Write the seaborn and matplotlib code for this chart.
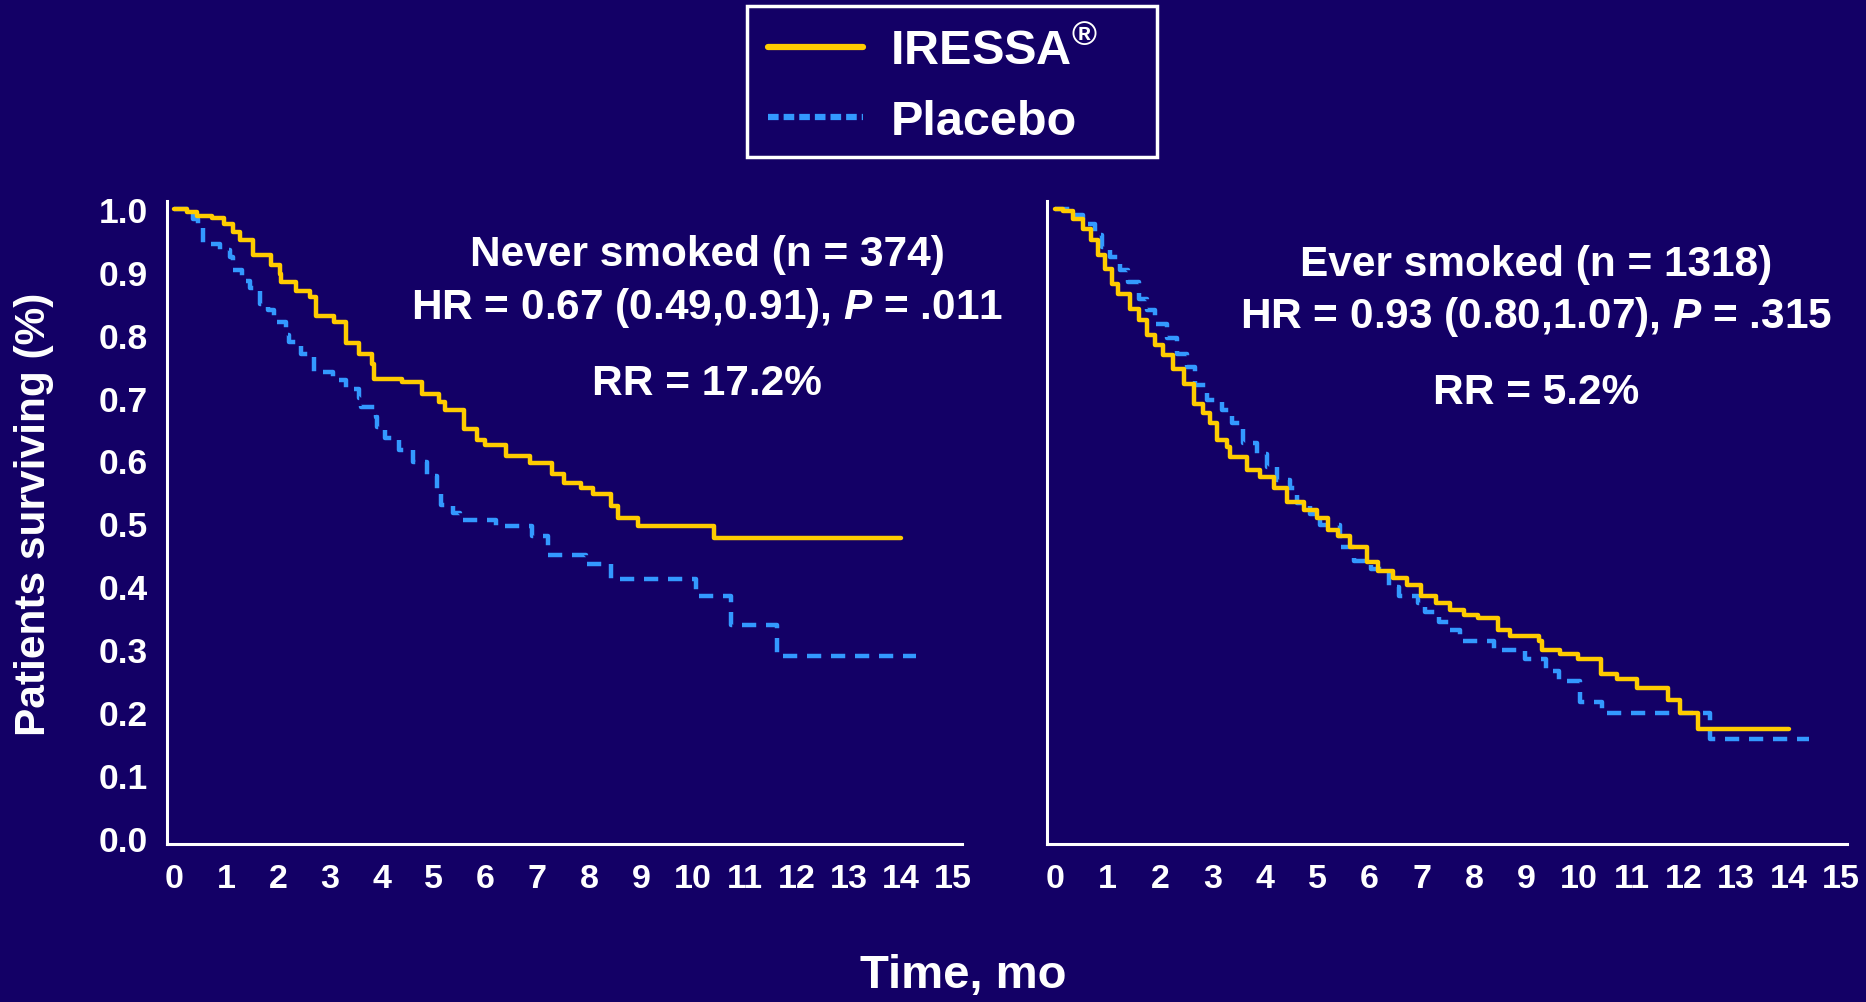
import matplotlib
matplotlib.use("Agg")
import matplotlib.pyplot as plt
from matplotlib import font_manager
from matplotlib.patches import Rectangle
import seaborn as sns
import pandas as pd

# ---------------- data ----------------
months = list(range(0, 16))
surv_ticks = [round(0.1 * i, 1) for i in range(0, 11)]

never_iressa_t = [0, 0.24, 0.43, 0.72, 0.95, 1.14, 1.26, 1.52, 1.87, 2.03, 2.06, 2.35, 2.61, 2.73,
                  3.08, 3.31, 3.56, 3.82, 3.85, 4.39, 4.78, 5.10, 5.22, 5.58, 5.83, 5.99, 6.40,
                  6.85, 7.28, 7.52, 7.83, 8.07, 8.41, 8.55, 8.93, 10.41, 14.0]
never_iressa_s = [1.0, 0.995, 0.989, 0.985, 0.976, 0.963, 0.95, 0.926, 0.91, 0.897, 0.884, 0.87,
                  0.86, 0.83, 0.82, 0.786, 0.77, 0.754, 0.73, 0.725, 0.706, 0.693, 0.68, 0.65,
                  0.633, 0.624, 0.607, 0.596, 0.578, 0.565, 0.557, 0.546, 0.527, 0.508, 0.496,
                  0.477, 0.477]

never_placebo_t = [0, 0.37, 0.45, 0.56, 0.88, 1.07, 1.14, 1.30, 1.46, 1.65, 1.81, 1.93, 2.16, 2.22,
                   2.45, 2.70, 3.05, 3.31, 3.56, 3.60, 3.88, 3.91, 4.07, 4.33, 4.60, 4.87, 5.07,
                   5.14, 5.38, 5.50, 6.21, 6.90, 7.20, 7.93, 8.41, 10.06, 10.72, 11.61, 14.3]
never_placebo_s = [1.0, 0.984, 0.976, 0.944, 0.934, 0.923, 0.902, 0.886, 0.874, 0.849, 0.839,
                   0.82, 0.80, 0.788, 0.77, 0.74, 0.728, 0.714, 0.70, 0.685, 0.669, 0.653, 0.635,
                   0.617, 0.597, 0.575, 0.546, 0.53, 0.517, 0.506, 0.496, 0.48, 0.45, 0.435,
                   0.412, 0.384, 0.339, 0.29, 0.29]

ever_iressa_t = [0, 0.15, 0.34, 0.53, 0.69, 0.82, 0.95, 1.08, 1.20, 1.43, 1.59, 1.75, 1.90, 2.06,
                 2.25, 2.45, 2.64, 2.83, 2.96, 3.08, 3.27, 3.34, 3.66, 3.91, 4.17, 4.42, 4.74,
                 4.99, 5.20, 5.40, 5.62, 5.96, 6.17, 6.44, 6.71, 6.98, 7.26, 7.53, 7.80, 8.07,
                 8.45, 8.69, 9.23, 9.30, 9.64, 9.98, 10.42, 10.73, 11.11, 11.69, 11.93, 12.27, 14.0]
ever_iressa_s = [1.0, 0.997, 0.984, 0.968, 0.95, 0.926, 0.905, 0.881, 0.865, 0.841, 0.823, 0.799,
                 0.783, 0.767, 0.746, 0.722, 0.69, 0.675, 0.659, 0.632, 0.622, 0.606, 0.585,
                 0.574, 0.556, 0.534, 0.521, 0.508, 0.49, 0.48, 0.463, 0.438, 0.424, 0.413,
                 0.402, 0.385, 0.374, 0.363, 0.355, 0.349, 0.33, 0.321, 0.313, 0.299, 0.293,
                 0.285, 0.26, 0.252, 0.238, 0.22, 0.199, 0.174, 0.174]

ever_placebo_t = [0, 0.09, 0.34, 0.53, 0.76, 0.89, 1.04, 1.24, 1.39, 1.59, 1.75, 1.90, 2.13, 2.32,
                  2.51, 2.67, 2.89, 3.18, 3.37, 3.59, 3.85, 4.04, 4.23, 4.48, 4.61, 4.87, 5.06,
                  5.44, 5.70, 6.03, 6.37, 6.57, 6.92, 7.05, 7.32, 7.53, 7.73, 8.38, 8.96, 9.37,
                  9.61, 10.02, 10.43, 12.50, 14.38]
ever_placebo_s = [1.0, 0.999, 0.99, 0.976, 0.958, 0.939, 0.923, 0.902, 0.884, 0.857, 0.839, 0.817,
                  0.794, 0.77, 0.749, 0.72, 0.696, 0.68, 0.659, 0.627, 0.611, 0.59, 0.569, 0.556,
                  0.532, 0.515, 0.498, 0.462, 0.44, 0.427, 0.399, 0.384, 0.374, 0.36, 0.343,
                  0.33, 0.313, 0.299, 0.285, 0.266, 0.249, 0.216, 0.199, 0.158, 0.158]

series_names = ["IRESSA$^{\\mathrm{®}}$", "Placebo"]
panel_titles = ["Never smoked (n = 374)", "Ever smoked (n = 1318)"]
panel_hr = ["HR = 0.67 (0.49,0.91), $P$ = .011", "HR = 0.93 (0.80,1.07), $P$ = .315"]
panel_rr = ["RR = 17.2%", "RR = 5.2%"]
y_label = "Patients surviving (%)"
x_label = "Time, mo"

# ---------------- style ----------------
BG = "#130066"
YEL = "#FFCC00"
BLU = "#3399FF"

sns.set_theme(style="white")
names = {f.name for f in font_manager.fontManager.ttflist}
base = "Liberation Sans" if "Liberation Sans" in names else "DejaVu Sans"
narrow = "Liberation Sans Narrow" if "Liberation Sans Narrow" in names else base
plt.rcParams["font.family"] = [base, "DejaVu Sans"]
plt.rcParams["font.weight"] = "bold"
plt.rcParams["mathtext.fontset"] = "custom"
plt.rcParams["mathtext.rm"] = f"{base}:bold"
plt.rcParams["mathtext.bf"] = f"{base}:bold"
plt.rcParams["mathtext.it"] = f"{base}:italic:bold"

fig = plt.figure(figsize=(18.66, 10.03), dpi=100, facecolor=BG)

axes_rects = [[0.0895, 0.1575, 0.426, 0.6415], [0.561, 0.1575, 0.4287, 0.6415]]
xlims = [(-0.14, 15.18), (-0.16, 15.11)]
data_sets = [
    [(never_iressa_t, never_iressa_s), (never_placebo_t, never_placebo_s)],
    [(ever_iressa_t, ever_iressa_s), (ever_placebo_t, ever_placebo_s)],
]
text_pos = [(0.379, [0.746, 0.693, 0.617]), (0.823, [0.736, 0.684, 0.608])]

axes = []
for i in range(2):
    ax = fig.add_axes(axes_rects[i])
    ax.set_facecolor(BG)
    (t1, s1), (t2, s2) = data_sets[i]
    d1 = pd.DataFrame({"t": t1, "s": s1})
    d2 = pd.DataFrame({"t": t2, "s": s2})
    sns.lineplot(data=d2, x="t", y="s", ax=ax, color=BLU, lw=3.2, estimator=None,
                 drawstyle="steps-post", linestyle=(0, (3.2, 2.2)), label=series_names[1],
                 zorder=2)
    sns.lineplot(data=d1, x="t", y="s", ax=ax, color=YEL, lw=3.2, estimator=None,
                 drawstyle="steps-post", label=series_names[0], zorder=3)
    ax.set_xlim(*xlims[i])
    ax.set_ylim(-0.0095, 1.013)
    ax.set_xticks(months)
    ax.set_xticklabels([str(m) for m in months], fontsize=24.5, fontweight="bold",
                       family=[narrow, "DejaVu Sans"], color="white")
    ax.set_yticks(surv_ticks)
    if i == 0:
        ax.set_yticklabels([f"{v:.1f}" for v in surv_ticks], fontsize=25.5,
                           fontweight="bold", color="white")
    else:
        ax.set_yticklabels([])
    ax.tick_params(axis="both", colors="white", length=6, width=1.2, direction="out")
    ax.tick_params(axis="x", pad=8)
    ax.tick_params(axis="y", pad=8)
    for sp in ["top", "right"]:
        ax.spines[sp].set_visible(False)
    for sp in ["left", "bottom"]:
        ax.spines[sp].set_color("white")
        ax.spines[sp].set_linewidth(2.2)
    ax.set_xlabel("")
    ax.set_ylabel("")
    if ax.get_legend() is not None:
        ax.get_legend().remove()
    xc, ys = text_pos[i]
    fig.text(xc, ys[0], panel_titles[i], ha="center", va="center", color="white",
             fontsize=30.5, fontweight="bold")
    fig.text(xc, ys[1], panel_hr[i], ha="center", va="center", color="white",
             fontsize=30.5, fontweight="bold")
    fig.text(xc, ys[2], panel_rr[i], ha="center", va="center", color="white",
             fontsize=30.5, fontweight="bold")
    axes.append(ax)

# legend: frameless legend inside a separately drawn white box
handles, labels = axes[0].get_legend_handles_labels()
order = [labels.index(series_names[0]), labels.index(series_names[1])]
leg = fig.legend([handles[k] for k in order], [labels[k] for k in order],
                 loc="upper left", bbox_to_anchor=(0.4115, 0.971), fontsize=35,
                 frameon=False, handlelength=1.96, handletextpad=0.56, borderpad=0.0,
                 labelspacing=0.5, borderaxespad=0.0)
for txt in leg.get_texts():
    txt.set_color("white")
    txt.set_fontweight("bold")
legend_lines = leg.get_lines()
for lh in legend_lines:
    lh.set_linewidth(4.5)
legend_lines[1].set_dashes((1.7, 0.8))
fig.add_artist(Rectangle((0.4003, 0.8425), 0.2197, 0.1505, transform=fig.transFigure,
                         fill=False, edgecolor="white", linewidth=2.5))

fig.text(0.018, 0.4875, y_label, rotation=90, ha="center", va="center", color="white",
         fontsize=30.5, fontweight="bold")
fig.text(0.516, 0.027, x_label, ha="center", va="center", color="white",
         fontsize=34, fontweight="bold", family=[narrow, "DejaVu Sans"])

fig.savefig("out.png", dpi=100, facecolor=BG)
